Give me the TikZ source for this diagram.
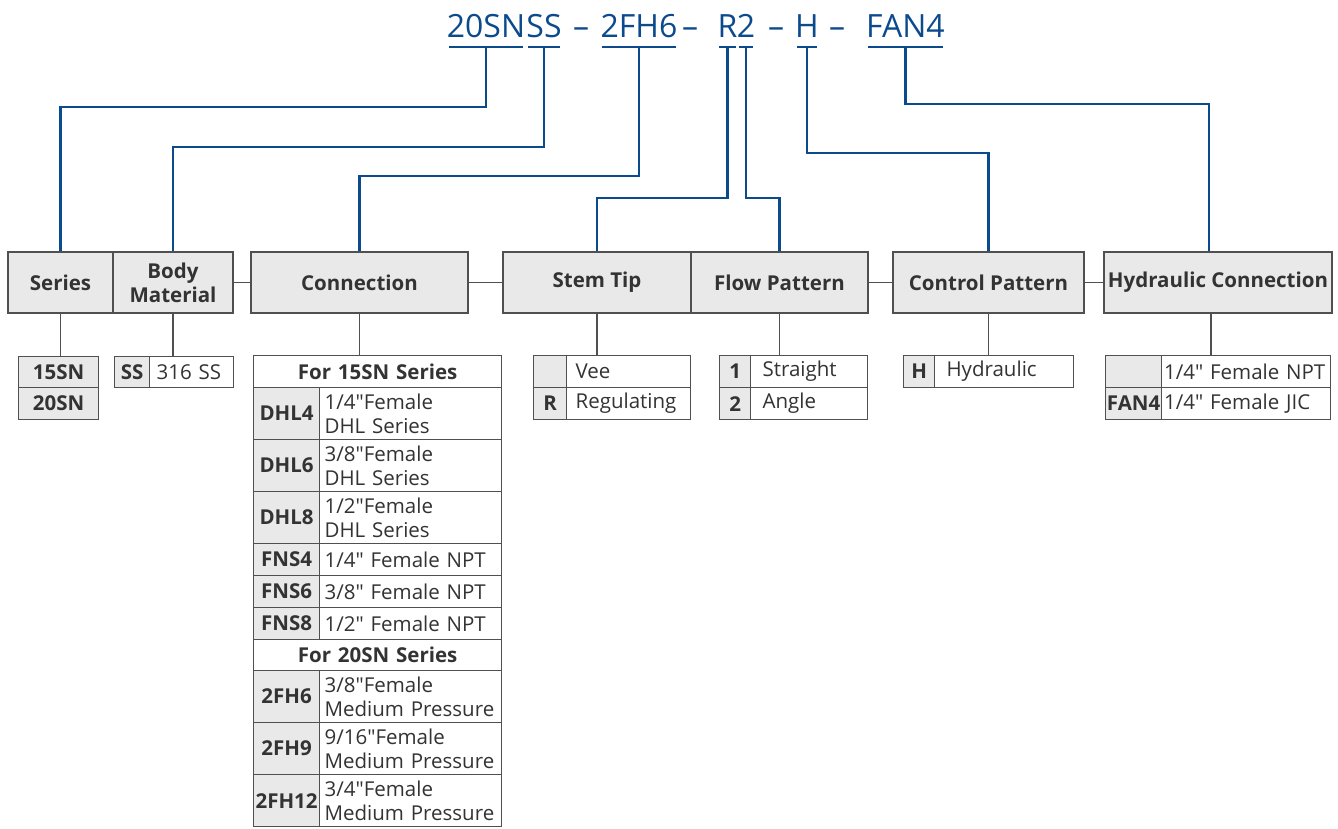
\documentclass[tikz,border=0pt]{standalone}
\usepackage{fontspec}
\setmainfont{Open Sans}[Ligatures=TeXOff]
\usepackage{tikz}
\usetikzlibrary{positioning, calc}
\definecolor{partblue}{HTML}{0B4A8C}
\definecolor{cellgray}{HTML}{E9E9E9}
\definecolor{linegray}{HTML}{505050}
\definecolor{txtgray}{HTML}{333333}
\newcommand{\titlefont}{\fontsize{32}{36}\selectfont}
\newcommand{\hdrfont}{\fontsize{20.5}{24}\selectfont\bfseries}
\newcommand{\bodyfont}{\fontsize{20.5}{24}\selectfont}
\hyphenpenalty=10000
\exhyphenpenalty=10000

\tikzset{
    partcode/.style={font=\titlefont, text=partblue, anchor=base, inner sep=0pt, text depth=10pt},
    partline/.style={draw=partblue, line width=2.4pt},
    hdr/.style={draw=linegray, fill=cellgray, line width=1.2pt, minimum height=61pt,
        inner sep=0pt, font=\hdrfont, text=txtgray, align=center},
    codecell/.style={draw=linegray, fill=cellgray, line width=1.2pt, inner sep=0pt,
        anchor=north west, font=\hdrfont, text=txtgray, align=center},
    desccell/.style={draw=linegray, fill=white, line width=1.2pt, inner sep=0pt,
        anchor=north west, font=\bodyfont, text=txtgray, align=left, text width=#1},
    stub/.style={draw=linegray, line width=1.2pt}
}

\begin{document}
\begin{tikzpicture}[x=1pt, y=-1pt]
    \useasboundingbox (0,0) rectangle (1338,828);

    % part number
    \node[partcode] (sn) at (486,37) {20SN};
    \node[partcode] (ss) at (544,37) {SS};
    \node[partcode] (d1) at (581,37) {–};
    \node[partcode] (fh) at (639,37) {2FH6};
    \node[partcode] (d2) at (690,37) {–};
    \node[partcode] (r) at (727.5,37) {R};
    \node[partcode] (two) at (746,37) {2};
    \node[partcode] (d3) at (776,37) {–};
    \node[partcode] (h) at (807,37) {H};
    \node[partcode] (d4) at (837,37) {–};
    \node[partcode] (fan) at (905.5,37) {FAN4};
    \foreach \p in {sn, ss, fh, r, two, h, fan}
        \draw[partline, shorten <=2pt, shorten >=2pt] (\p.south west) -- (\p.south east);

    % headers
    \node[hdr, minimum width=105pt] (series) at (60.5,282.5) {Series};
    \node[hdr, minimum width=120pt] (body) at (173,282.5) {Body\\Material};
    \node[hdr, minimum width=217pt] (conn) at (359.5,282.5) {Connection};
    \node[hdr, minimum width=188pt] (stem) at (597,282.5) {Stem Tip};
    \node[hdr, minimum width=177pt] (flow) at (779.5,282.5) {Flow Pattern};
    \node[hdr, minimum width=191pt] (ctrl) at (988.5,282.5) {Control Pattern};
    \node[hdr, minimum width=228pt] (hyd) at (1218,282.5) {Hydraulic Connection};

    \draw[stub] (body) -- (conn) (conn) -- (stem) (flow) -- (ctrl) (ctrl) -- (hyd);

    % part number to headers
    \draw[partline] (sn.south) -- ++(0,60) -| (series.north);
    \draw[partline] (ss.south) -- ++(0,100) -| (body.north);
    \draw[partline] (fh.south) -- ++(0,129) -| (conn.north);
    \draw[partline] (r.south) -- ++(0,151) -| (stem.north);
    \draw[partline] (two.south) -- ++(0,151) -| (flow.north);
    \draw[partline] (h.south) -- ++(0,106) -| (ctrl.north);
    \draw[partline] (fan.south) -- ++(0,57) -| ([xshift=-9pt]hyd.north);

    % series
    \node[codecell, minimum width=80pt, minimum height=31pt] (s15) at (18,356) {15SN};
    \node[codecell, minimum width=80pt, minimum height=32pt] (s20) at (18,387) {20SN};

    % body material
    \node[codecell, minimum width=35pt, minimum height=31pt] (bss) at (114,356) {SS};
    \node[desccell=70pt, minimum width=84pt, minimum height=31pt] (bssd) at (149,356) {316 SS};

    % connection
    \node[desccell=230pt, align=center, font=\hdrfont, minimum width=248pt, minimum height=32pt] (c15) at (253,355) {For 15SN Series};
    \node[desccell=230pt, align=center, font=\hdrfont, minimum width=248pt, minimum height=31pt] (c20) at (253,639) {For 20SN Series};
    \foreach \cd/\ds/\yy/\hh in {
        DHL4/{1/4"Female\\DHL Series}/387/52,
        DHL6/{3/8"Female\\DHL Series}/439/52,
        DHL8/{1/2"Female\\DHL Series}/491/52,
        FNS4/{1/4" Female NPT}/543/32,
        FNS6/{3/8" Female NPT}/575/32,
        FNS8/{1/2" Female NPT}/607/32,
        2FH6/{3/8"Female\\Medium Pressure}/670/52,
        2FH9/{9/16"Female\\Medium Pressure}/722/52,
        2FH12/{3/4"Female\\Medium Pressure}/774/52}
    {
        \node[codecell, minimum width=66pt, minimum height=\hh pt] (cc-\cd) at (253,\yy) {\cd};
        \node[desccell=172pt, minimum width=182pt, minimum height=\hh pt] (cd-\cd) at (319,\yy) {\ds};
    }

    % stem tip
    \node[codecell, minimum width=33pt, minimum height=32pt] (st1) at (533,355) {};
    \node[desccell=106pt, minimum width=124pt, minimum height=32pt] (st1d) at (566,355) {Vee};
    \node[codecell, minimum width=33pt, minimum height=32pt] (st2) at (533,387) {R};
    \node[desccell=106pt, minimum width=124pt, minimum height=32pt] (st2d) at (566,387) {Regulating};

    % flow pattern
    \node[codecell, minimum width=31pt, minimum height=32pt] (fl1) at (719,355) {1};
    \node[desccell=93pt, minimum width=117pt, minimum height=32pt] (fl1d) at (750,355) {Straight};
    \node[codecell, minimum width=31pt, minimum height=32pt] (fl2) at (719,387) {2};
    \node[desccell=93pt, minimum width=117pt, minimum height=32pt] (fl2d) at (750,387) {Angle};

    % control pattern
    \node[codecell, minimum width=31pt, minimum height=32pt] (ct1) at (903,355) {H};
    \node[desccell=115pt, minimum width=139pt, minimum height=32pt] (ct1d) at (934,355) {Hydraulic};

    % hydraulic connection
    \node[codecell, minimum width=56pt, minimum height=32pt] (hy1) at (1105,355) {};
    \node[desccell=164pt, minimum width=169pt, minimum height=32pt] (hy1d) at (1161,355) {1/4" Female NPT};
    \node[codecell, minimum width=56pt, minimum height=32pt] (hy2) at (1105,387) {FAN4};
    \node[desccell=164pt, minimum width=169pt, minimum height=32pt] (hy2d) at (1161,387) {1/4" Female JIC};

    % headers to tables
    \draw[stub] (series.south) -- (series.south |- s15.north);
    \draw[stub] (body.south) -- (body.south |- bss.north);
    \draw[stub] (conn.south) -- (conn.south |- c15.north);
    \draw[stub] (stem.south) -- (stem.south |- st1.north);
    \draw[stub] (flow.south) -- (flow.south |- fl1.north);
    \draw[stub] (ctrl.south) -- (ctrl.south |- ct1.north);
    \draw[stub] ([xshift=-7pt]hyd.south) -- ([xshift=-7pt]hyd.south |- hy1.north);
\end{tikzpicture}
\end{document}
